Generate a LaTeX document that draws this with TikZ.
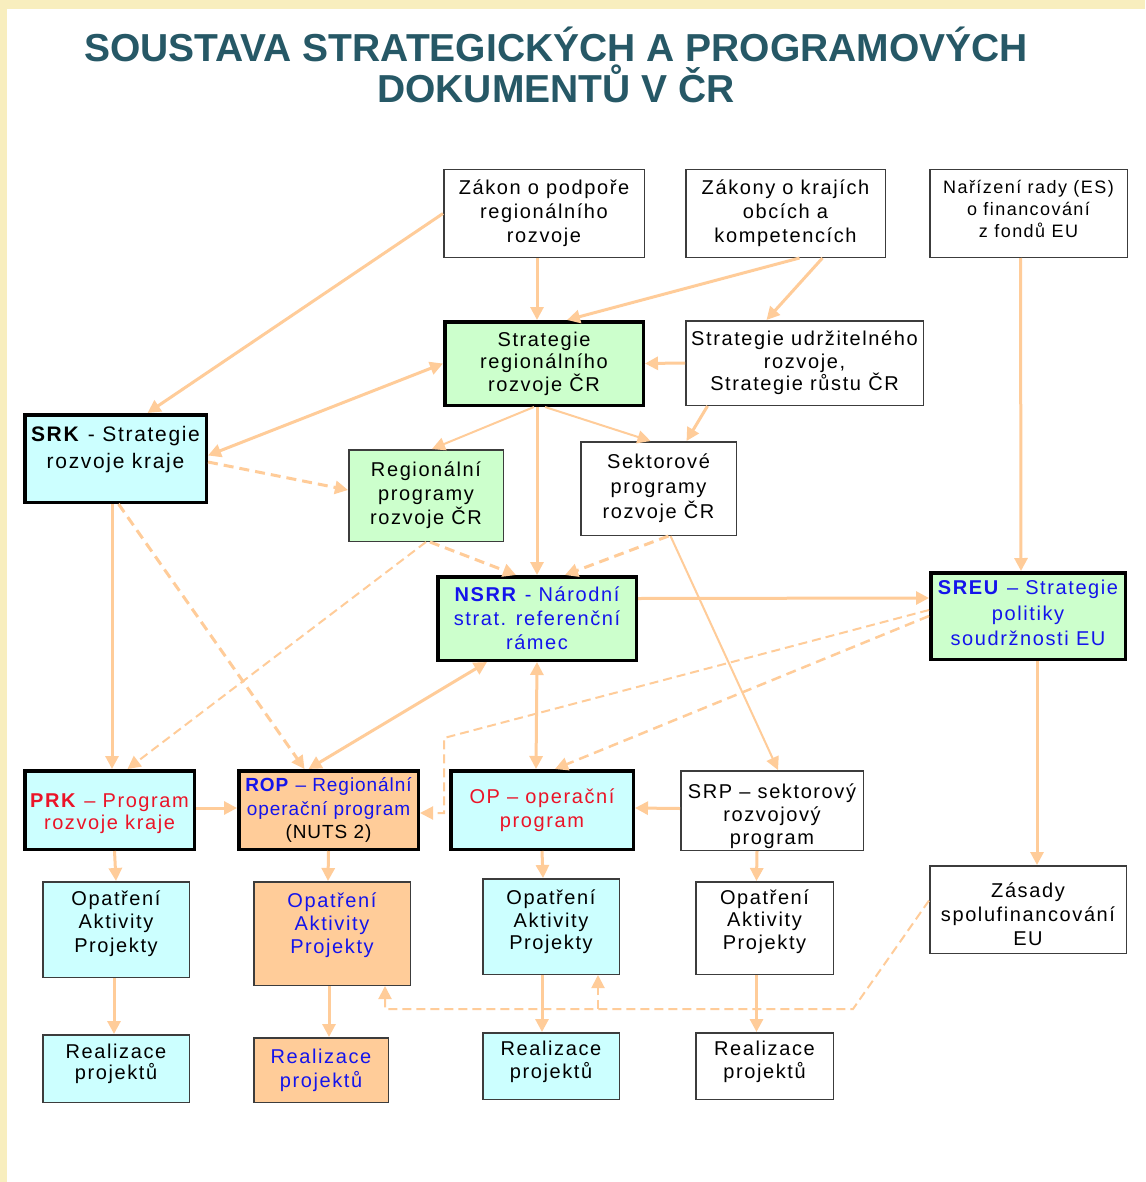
\documentclass[tikz,border=0pt]{standalone}
\usepackage{fontspec}
\setmainfont{Liberation Sans}
\newfontfamily\boxfont{Liberation Sans}[LetterSpace=8]
\newfontfamily\tightboxfont{Liberation Sans}[LetterSpace=5]
\usetikzlibrary{arrows.meta}

\definecolor{cream}{RGB}{248,238,190}
\definecolor{titleteal}{RGB}{38,88,102}
\definecolor{linkc}{RGB}{255,204,153}
\definecolor{greenbox}{RGB}{204,255,204}
\definecolor{cyanbox}{RGB}{204,255,255}
\definecolor{orangebox}{RGB}{255,204,153}
\definecolor{bluetext}{RGB}{20,20,235}
\definecolor{redtext}{RGB}{235,20,40}
\definecolor{framegray}{RGB}{60,60,60}

\tikzset{
    docbox/.style={
        rectangle, draw=framegray, line width=1.5pt, fill=white,
        align=center, inner sep=0pt,
        font=\boxfont\fontsize{20}{24}\selectfont
    },
    keybox/.style={
        docbox, draw=black, line width=3.5pt
    },
    title/.style={
        font=\bfseries\fontsize{39}{44}\selectfont, text=titleteal
    },
    link/.style={
        draw=linkc, line width=3pt, ->
    },
    thinlink/.style={link, line width=2pt},
    dashlink/.style={link, dash pattern=on 10pt off 6pt},
    thindash/.style={link, line width=2pt, dash pattern=on 9pt off 5pt}
}

\begin{document}
\begin{tikzpicture}[
    x=1pt, y=-1pt,
    >={Triangle[length=13pt,width=13pt]}
]
    \useasboundingbox (0,0) rectangle (1145,1182);
    \fill[cream] (0,0) rectangle (1145,1182);
    \fill[white] (7,9) rectangle (1145,1182);

    % --- TITLE ---
    \node[title] (title1) at (556,44.5) {SOUSTAVA STRATEGICKÝCH A PROGRAMOVÝCH};
    \node[title] (title2) at (556,83.5) {DOKUMENTŮ V ČR};

    % --- LAWS ---
    \node[docbox, minimum width=200.5pt, minimum height=87.5pt] (zakon) at (544,213.5) {Zákon o podpoře\\regionálního\\rozvoje};
    \node[docbox, minimum width=199.5pt, minimum height=87.5pt] (zakony) at (785.5,213.5) {Zákony o krajích\\obcích a\\kompetencích};
    \node[docbox, minimum width=197.5pt, minimum height=87.5pt, font=\boxfont\fontsize{18}{22}\selectfont] (narizeni) at (1028.5,213.5) {Nařízení rady (ES)\\o financování\\z fondů EU\\[-13.5pt]\mbox{}};

    % --- STRATEGIES ---
    \node[keybox, fill=greenbox, minimum width=198.5pt, minimum height=83.5pt, font=\boxfont\fontsize{20}{22.5}\selectfont] (srr) at (544,363.5) {Strategie\\regionálního\\rozvoje ČR};
    \node[docbox, minimum width=237.5pt, minimum height=84.5pt, font=\boxfont\fontsize{20}{22.5}\selectfont] (sur) at (804.5,363) {Strategie udržitelného\\rozvoje,\\Strategie růstu ČR};
    \node[keybox, fill=cyanbox, minimum width=181.5pt, minimum height=87.5pt, font=\boxfont\fontsize{21}{27}\selectfont] (srk) at (115.5,458.5) {\textbf{SRK} - Strategie\\rozvoje kraje\\[-4pt]\mbox{}};
    \node[docbox, fill=greenbox, minimum width=154.5pt, minimum height=91.5pt] (regprog) at (426,495.5) {Regionální\\programy\\rozvoje ČR};
    \node[docbox, minimum width=155.5pt, minimum height=93.5pt, font=\boxfont\fontsize{20}{25}\selectfont] (sektprog) at (658.5,488.5) {Sektorové\\programy\\rozvoje ČR};
    \node[keybox, fill=greenbox, text=bluetext, minimum width=198.5pt, minimum height=83.5pt] (nsrr) at (537,618.5) {\textbf{NSRR} - Národní\\strat. referenční\\rámec};
    \node[keybox, fill=greenbox, text=bluetext, minimum width=194.5pt, minimum height=86.5pt, font=\boxfont\fontsize{20}{25.5}\selectfont] (sreu) at (1028,616) {\textbf{SREU} – Strategie\\politiky\\soudržnosti EU\\[-19pt]\mbox{}};

    % --- PROGRAMMES ---
    \node[keybox, fill=cyanbox, text=redtext, minimum width=169.5pt, minimum height=78.5pt, font=\boxfont\fontsize{20}{22}\selectfont] (prk) at (109.5,810) {\mbox{}\\[0pt]\textbf{PRK} – Program\\rozvoje kraje};
    \node[keybox, fill=orangebox, text=bluetext, minimum width=179.5pt, minimum height=78.5pt, font=\tightboxfont\fontsize{19}{23.5}\selectfont] (rop) at (328.5,810) {\textbf{ROP} – Regionální\\operační program\\\textcolor{black}{(NUTS 2)}};
    \node[keybox, fill=cyanbox, text=redtext, minimum width=182.5pt, minimum height=78.5pt] (op) at (542,810) {OP – operační\\program};
    \node[docbox, minimum width=182.5pt, minimum height=79.5pt, font=\boxfont\fontsize{20}{23}\selectfont] (srp) at (772,810.5) {\mbox{}\\[4pt]SRP – sektorový\\rozvojový\\program};
    \node[docbox, minimum width=196.5pt, minimum height=87.5pt] (zasady) at (1028,909.5) {\mbox{}\\[0pt]Zásady\\spolufinancování\\EU};

    % --- MEASURES ---
    \node[docbox, fill=cyanbox, minimum width=146.5pt, minimum height=95.5pt, font=\boxfont\fontsize{20}{23.5}\selectfont] (opat1) at (116,929.5) {Opatření\\Aktivity\\Projekty\\[-7pt]\mbox{}};
    \node[docbox, fill=orangebox, text=bluetext, minimum width=156.5pt, minimum height=103.5pt, font=\boxfont\fontsize{20}{23}\selectfont] (opat2) at (332,933.5) {Opatření\\Aktivity\\Projekty\\[-2pt]\mbox{}};
    \node[docbox, fill=cyanbox, minimum width=136.5pt, minimum height=95.5pt, font=\boxfont\fontsize{20}{22.5}\selectfont] (opat3) at (551,926.5) {Opatření\\Aktivity\\Projekty\\[-9pt]\mbox{}};
    \node[docbox, minimum width=137.5pt, minimum height=92.5pt, font=\boxfont\fontsize{20}{22.5}\selectfont] (opat4) at (764.5,928) {Opatření\\Aktivity\\Projekty\\[-5pt]\mbox{}};

    % --- REALISATION ---
    \node[docbox, fill=cyanbox, minimum width=146.5pt, minimum height=67.5pt, font=\boxfont\fontsize{20}{21.5}\selectfont] (real1) at (116,1068.5) {Realizace\\projektů\\[-8pt]\mbox{}};
    \node[docbox, fill=orangebox, text=bluetext, minimum width=134.5pt, minimum height=64.5pt, font=\boxfont\fontsize{20}{24}\selectfont] (real2) at (321,1070) {Realizace\\projektů};
    \node[docbox, fill=cyanbox, minimum width=136.5pt, minimum height=66.5pt, font=\boxfont\fontsize{20}{23}\selectfont] (real3) at (551,1066) {Realizace\\projektů\\[-10pt]\mbox{}};
    \node[docbox, minimum width=137.5pt, minimum height=66.5pt, font=\boxfont\fontsize{20}{23}\selectfont] (real4) at (764.5,1066) {Realizace\\projektů\\[-10pt]\mbox{}};

    % --- SOLID LINKS ---
    \draw[link] (zakon.west) -- ([xshift=32]srk.north);
    \draw[link] ([xshift=-7]zakon.south) -- ([xshift=-7]srr.north);
    \draw[link] ([xshift=14]zakony.south) -- ([xshift=23]srr.north);
    \draw[link] ([xshift=37]zakony.south) -- ([xshift=-38]sur.north);
    \draw[link] (sur.west) -- (srr.east);
    \draw[link, <->] ([yshift=3]srk.east) -- (srr.west);
    \draw[link] ([xshift=-7]srr.south) -- (nsrr.north);
    \draw[thinlink] ([xshift=-10]srr.south) -- ([xshift=6]regprog.north);
    \draw[thinlink] ([xshift=1]srr.south) -- ([xshift=-8]sektprog.north);
    \draw[link] ([xshift=-97]sur.south) -- ([xshift=28]sektprog.north);
    \draw[thinlink] ([xshift=12]sektprog.south) -- ([xshift=6]srp.north);
    \draw[link] ([yshift=20]nsrr.east) -- ([yshift=18]sreu.west);
    \draw[link] ([xshift=-8]narizeni.south) -- ([xshift=-7]sreu.north);
    \draw[link] ([xshift=9]sreu.south) -- ([xshift=9]zasady.north);
    \draw[link, <->] (nsrr.south) -- ([xshift=-6]op.north);
    \draw[link, <->] ([xshift=-20]rop.north) -- ([xshift=-50]nsrr.south);
    \draw[link] ([xshift=-3.5]srk.south) -- ([xshift=2.5]prk.north);
    \draw[link] ([yshift=2]prk.east) -- ([yshift=2]rop.west);
    \draw[link] ([yshift=2]srp.west) -- ([yshift=2]op.east);
    \draw[link] ([xshift=5]prk.south) -- (opat1.north);
    \draw[link] (rop.south) -- ([xshift=-4]opat2.north);
    \draw[link] (op.south) -- ([xshift=-8]opat3.north);
    \draw[link] ([xshift=-15]srp.south) -- ([xshift=-8]opat4.north);
    \draw[link] ([xshift=-2]opat1.south) -- ([xshift=-2]real1.north);
    \draw[link] ([xshift=-3]opat2.south) -- ([xshift=8]real2.north);
    \draw[link] ([xshift=-9]opat3.south) -- ([xshift=-9]real3.north);
    \draw[link] ([xshift=-8]opat4.south) -- ([xshift=-8]real4.north);

    % --- DASHED LINKS ---
    \draw[dashlink] ([yshift=-3.5]srk.east) -- ([yshift=5.5]regprog.west);
    \draw[dashlink] ([xshift=3]srk.south) -- ([xshift=-24]rop.north);
    \draw[thindash] (regprog.south) -- ([xshift=18]prk.north);
    \draw[dashlink] ([xshift=4]regprog.south) -- ([xshift=-21]nsrr.north);
    \draw[dashlink] ([xshift=10]sektprog.south) -- ([xshift=28]nsrr.north);
    \coordinate (ropbend) at (444,738);
    \draw[thindash] ([yshift=6]sreu.west) -- (ropbend) |- ([yshift=-3]rop.east);
    \draw[dashlink, line width=2.5pt] (sreu.west) -- ([xshift=13]op.north);
    \coordinate (zasbend) at (853,1009);
    \coordinate (opbranch) at (598,1009);
    \draw[thindash] ([yshift=9]zasady.west) -- (zasbend) -| ([xshift=53]opat2.south);
    \draw[thindash] (opbranch) -- (opbranch |- opat3.south);

\end{tikzpicture}
\end{document}
